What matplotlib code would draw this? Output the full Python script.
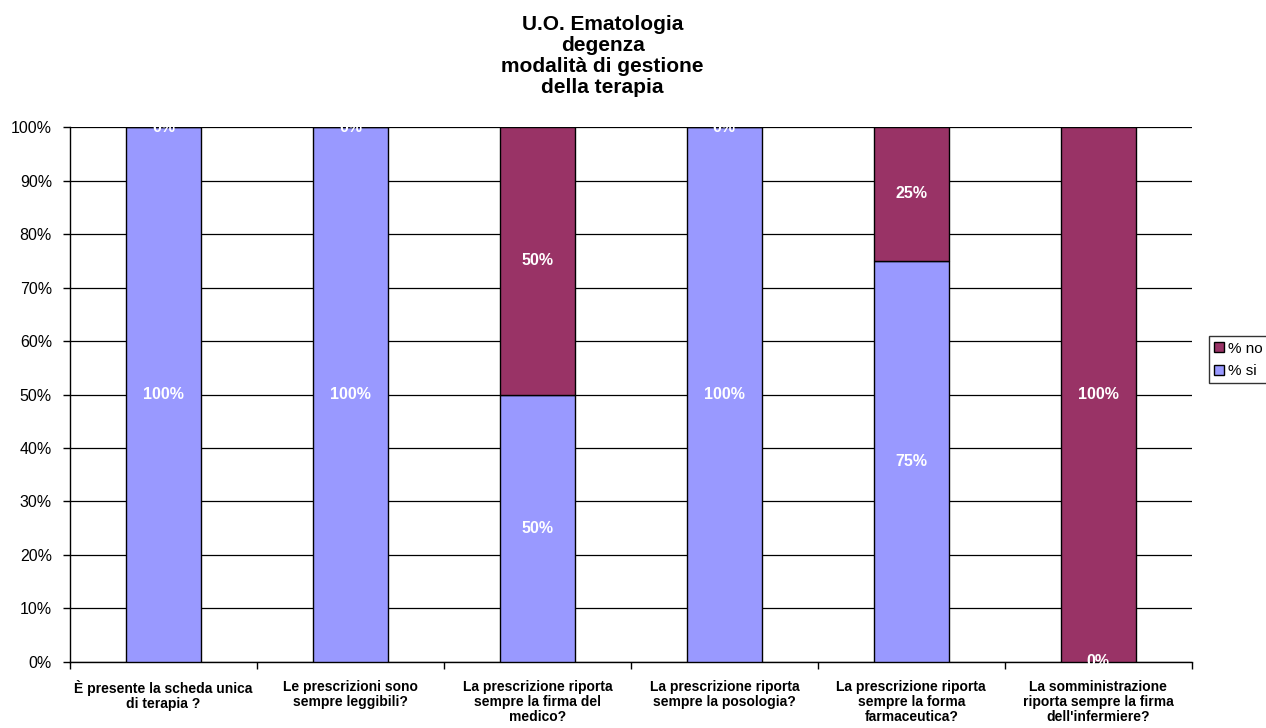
import matplotlib.pyplot as plt
import numpy as np

plt.rcParams['font.family'] = ['Liberation Sans', 'DejaVu Sans']

categories = [
    "È presente la scheda unica\ndi terapia ?",
    "Le prescrizioni sono\nsempre leggibili?",
    "La prescrizione riporta\nsempre la firma del\nmedico?",
    "La prescrizione riporta\nsempre la posologia?",
    "La prescrizione riporta\nsempre la forma\nfarmaceutica?",
    "La somministrazione\nriporta sempre la firma\ndell'infermiere?",
]
pct_si = [100, 100, 50, 100, 75, 0]
pct_no = [0, 0, 50, 0, 25, 100]

col_si = '#9999FF'
col_no = '#993366'

fig = plt.figure(figsize=(12.66, 7.28), dpi=100)
ax = fig.add_axes([0.0553, 0.0907, 0.886, 0.7348])

x = np.arange(len(categories))
w = 0.4
b_si = ax.bar(x, pct_si, w, color=col_si, edgecolor='black', linewidth=1, label='% si', zorder=3)
b_no = ax.bar(x, pct_no, w, bottom=pct_si, color=col_no, edgecolor='black', linewidth=1, label='% no', zorder=3)

for i in range(len(x)):
    ax.text(x[i], pct_si[i] / 2, f'{pct_si[i]}%', ha='center', va='center',
            color='white', fontsize=11.5, fontweight='bold', zorder=4)
    ax.text(x[i], pct_si[i] + pct_no[i] / 2, f'{pct_no[i]}%', ha='center', va='center',
            color='white', fontsize=11.5, fontweight='bold', zorder=4)

ax.set_xlim(-0.5, len(x) - 0.5)
ax.set_ylim(0, 100)
ax.set_yticks(range(0, 101, 10))
ax.set_yticklabels([f'{v}%' for v in range(0, 101, 10)], fontsize=11.5)
ax.yaxis.grid(True, color='black', linewidth=0.9)
ax.set_axisbelow(True)

ax.set_xticks(x)
ax.set_xticklabels(categories, fontsize=10, fontweight='bold', linespacing=1.1)
ax.tick_params(axis='x', which='major', length=0, pad=13)
ax.set_xticks(np.arange(-0.5, len(x)), minor=True)
ax.tick_params(axis='x', which='minor', length=5, direction='out', width=1)
ax.tick_params(axis='y', length=5, width=1, pad=8)

for s in ['top', 'right']:
    ax.spines[s].set_visible(False)
for s in ['left', 'bottom']:
    ax.spines[s].set_linewidth(1)

fig.text(0.476, 0.98, 'U.O. Ematologia\ndegenza\nmodalità di gestione\ndella terapia',
         ha='center', va='top', fontsize=15, fontweight='bold', linespacing=1.15)

leg = fig.legend(handles=[b_no, b_si], labels=['% no', '% si'], loc='upper left',
                 bbox_to_anchor=(0.955, 0.538), fontsize=11, frameon=True, fancybox=False,
                 edgecolor='black', handlelength=0.6, handleheight=0.6, handletextpad=0.3,
                 borderpad=0.35, labelspacing=0.55, borderaxespad=0)
leg.get_frame().set_linewidth(1)

fig.savefig('out.png', dpi=100)
